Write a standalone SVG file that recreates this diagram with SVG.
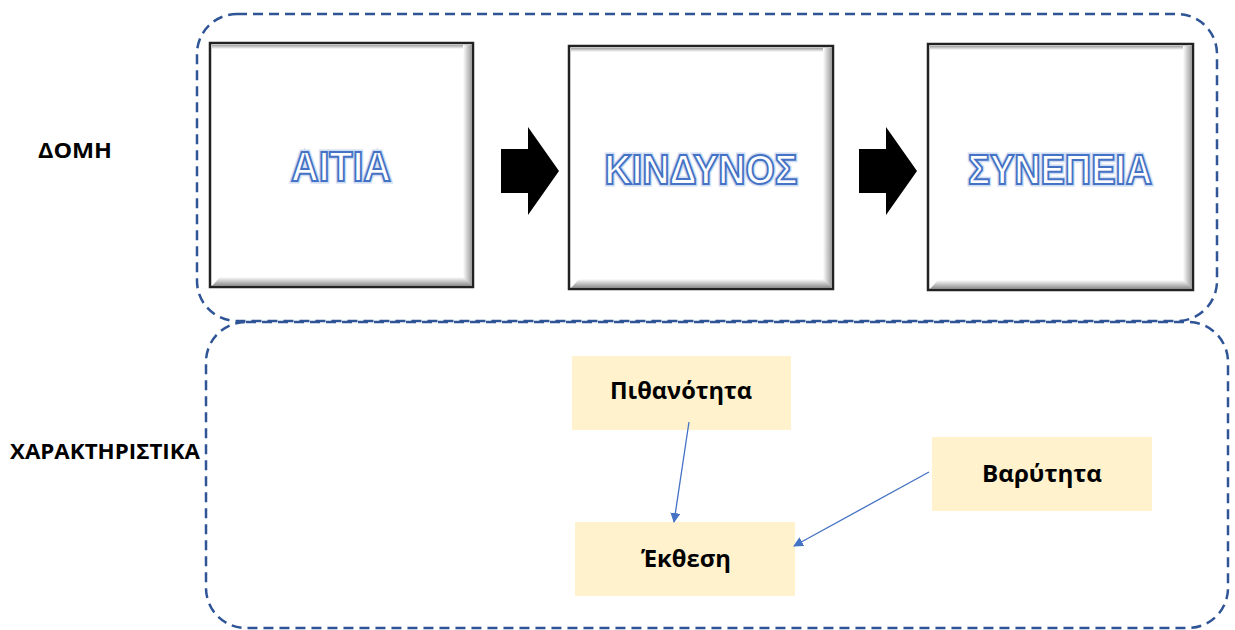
<svg xmlns="http://www.w3.org/2000/svg" width="1235" height="630" viewBox="0 0 1235 630">
<defs>
<style>
.grp{fill:none;stroke:#2F5597;stroke-width:2.5;stroke-dasharray:10,6}
.box{fill:#fff;stroke:#222;stroke-width:2.5}
.big{font-family:"Liberation Sans",Arial,sans-serif;font-weight:bold;font-size:42px;fill:#fff;stroke:#4472C4;stroke-width:2;text-anchor:middle}
.glow{font-family:"Liberation Sans",Arial,sans-serif;font-weight:bold;font-size:42px;fill:none;stroke:#A9C0EA;stroke-width:5;text-anchor:middle;opacity:0.55}
.lbl{font-family:"Open Sans","Noto Sans",sans-serif;font-weight:bold;font-size:21px;fill:#000}
.yb{fill:#FFF2CC}
.yt{font-family:"Open Sans","Noto Sans",sans-serif;font-weight:bold;font-size:23px;fill:#000;text-anchor:middle}
.con{stroke:#4472C4;stroke-width:1.3;fill:none}
</style>
<linearGradient id="gb" x1="0" y1="0" x2="0" y2="1">
<stop offset="0" stop-color="#fff"/><stop offset="1" stop-color="#8a8a8a"/>
</linearGradient>
<linearGradient id="gr" x1="0" y1="0" x2="1" y2="0">
<stop offset="0" stop-color="#fff"/><stop offset="1" stop-color="#9a9a9a"/>
</linearGradient>
<linearGradient id="gt" x1="0" y1="0" x2="0" y2="1">
<stop offset="0" stop-color="#a0a0a0"/><stop offset="1" stop-color="#fff"/>
</linearGradient>
<marker id="ah" viewBox="0 0 10 10" refX="9" refY="5" markerWidth="10" markerHeight="10" markerUnits="userSpaceOnUse" orient="auto">
<path d="M0,0 L10,5 L0,10 Z" fill="#4472C4"/>
</marker>
</defs>
<rect width="1235" height="630" fill="#fff"/>
<g id="group-domi">
<rect class="grp" x="197" y="14" width="1020" height="307" rx="40"/>
</g>
<g id="group-char">
<rect class="grp" x="206" y="322" width="1022" height="306" rx="40"/>
</g>
<g id="label-domi"><text class="lbl" x="38" y="158" textLength="74" lengthAdjust="spacingAndGlyphs">ΔΟΜΗ</text></g>
<g id="label-char"><text class="lbl" x="10" y="459" textLength="190" lengthAdjust="spacingAndGlyphs">ΧΑΡΑΚΤΗΡΙΣΤΙΚΑ</text></g>
<g id="node-aitia">
<rect class="box" x="210" y="43" width="263" height="244"/>
<rect x="212" y="45" width="259" height="4" fill="url(#gt)"/>
<rect x="463" y="45" width="9" height="241" fill="url(#gr)"/>
<polygon points="212,286 472,286 463,277 220,277" fill="url(#gb)"/>
<text class="glow" x="341" y="181" textLength="100" lengthAdjust="spacingAndGlyphs">ΑΙΤΙΑ</text>
<text class="big" x="341" y="181" textLength="100" lengthAdjust="spacingAndGlyphs">ΑΙΤΙΑ</text>
</g>
<g id="node-kindynos">
<rect class="box" x="569" y="46" width="264" height="243"/>
<rect x="571" y="48" width="260" height="4" fill="url(#gt)"/>
<rect x="823" y="48" width="9" height="240" fill="url(#gr)"/>
<polygon points="571,288 832,288 823,279 579,279" fill="url(#gb)"/>
<text class="glow" x="701" y="184" textLength="193" lengthAdjust="spacingAndGlyphs">ΚΙΝΔΥΝΟΣ</text>
<text class="big" x="701" y="184" textLength="193" lengthAdjust="spacingAndGlyphs">ΚΙΝΔΥΝΟΣ</text>
</g>
<g id="node-synepeia">
<rect class="box" x="928" y="44" width="265" height="246"/>
<rect x="930" y="46" width="261" height="4" fill="url(#gt)"/>
<rect x="1183" y="46" width="9" height="243" fill="url(#gr)"/>
<polygon points="930,289 1192,289 1183,280 938,280" fill="url(#gb)"/>
<text class="glow" x="1060" y="184" textLength="184" lengthAdjust="spacingAndGlyphs">ΣΥΝΕΠΕΙΑ</text>
<text class="big" x="1060" y="184" textLength="184" lengthAdjust="spacingAndGlyphs">ΣΥΝΕΠΕΙΑ</text>
</g>
<g id="node-pithanotita">
<rect class="yb" x="572" y="356" width="219" height="74"/>
<text class="yt" x="681" y="399" textLength="142" lengthAdjust="spacingAndGlyphs">Πιθανότητα</text>
</g>
<g id="node-varytita">
<rect class="yb" x="932" y="437" width="220" height="74"/>
<text class="yt" x="1042" y="482" textLength="120" lengthAdjust="spacingAndGlyphs">Βαρύτητα</text>
</g>
<g id="node-ekthesi">
<rect class="yb" x="575" y="522" width="220" height="74"/>
<text class="yt" x="686" y="567" textLength="90" lengthAdjust="spacingAndGlyphs">Έκθεση</text>
</g>
<g id="connectors">
<polygon points="501,149 528,149 528,127 559,171 528,215 528,193 501,193" fill="#000"/>
<polygon points="859,149 886,149 886,127 917,171 886,215 886,193 859,193" fill="#000"/>
<line class="con" x1="689" y1="422" x2="674" y2="522" marker-end="url(#ah)"/>
<line class="con" x1="929" y1="472" x2="794" y2="546" marker-end="url(#ah)"/>
</g>
</svg>
